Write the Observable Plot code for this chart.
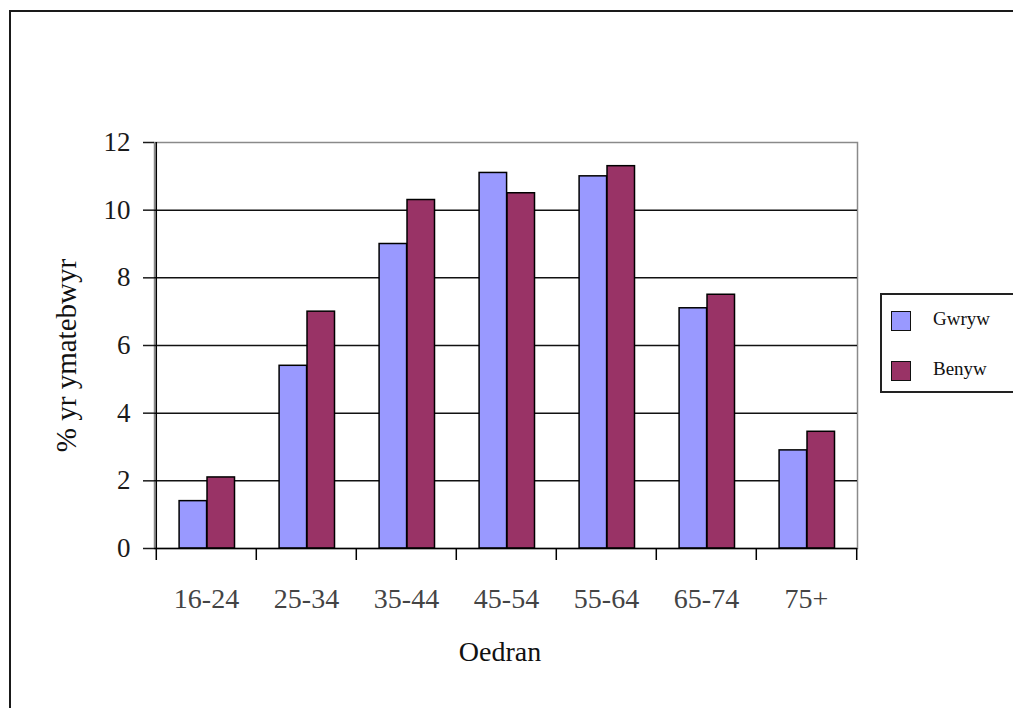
<!DOCTYPE html>
<html>
<head>
<meta charset="utf-8">
<script src="https://cdn.jsdelivr.net/npm/d3@7"></script>
<script src="https://cdn.jsdelivr.net/npm/@observablehq/plot@0.6"></script>
<style>
  html, body { margin: 0; padding: 0; background: #fff; overflow: hidden; }
  #wrap { position: relative; width: 1013px; height: 708px; overflow: hidden; }
  #border { position: absolute; left: 9px; top: 10px; width: 2000px; height: 2000px;
            border: 2px solid #1a1a1a; pointer-events: none; }
  #legend { position: absolute; left: 880px; top: 293px; width: 200px; height: 100px;
            border: 2px solid #222; box-sizing: border-box; background: #fff;
            font-family: 'Liberation Serif', 'Times New Roman', serif; font-size: 19px; color: #111; }
  .item { position: absolute; left: 9px; height: 20px; }
  .sw { position: absolute; left: 0; top: 0; width: 18px; height: 18px; border: 1.5px solid #111; }
  .lab { position: absolute; left: 42px; top: -3px; white-space: nowrap; }
</style>
</head>
<body>
<div id="wrap"></div>
<script>
// ---- data ----
const ages = ["16-24", "25-34", "35-44", "45-54", "55-64", "65-74", "75+"];
const series = ["Gwryw", "Benyw"];
const gwryw = [1.4, 5.4, 9.0, 11.1, 11.0, 7.1, 2.9];
const benyw = [2.1, 7.0, 10.3, 10.5, 11.3, 7.5, 3.45];
const yTicks = [0, 2, 4, 6, 8, 10, 12];
const colors = ["#9999FF", "#993366"];
const yTitle = "% yr ymatebwyr";
const xTitle = "Oedran";

// ---- table ----
const values = {Gwryw: gwryw, Benyw: benyw};
const data = series.flatMap(s => ages.map((a, i) => ({age: a, sex: s, value: values[s][i]})));

// ---- layout ----
const W = 1013, H = 708;
const mL = 154, mR = 156, mT = 142, mB = 160;
const step = (W - mL - mR) / ages.length;
const gap = step * 0.23;
const barW = step * 0.278;
const font = "'Liberation Serif', 'Times New Roman', serif";

const plot = Plot.plot({
  width: W,
  height: H,
  marginLeft: mL,
  marginRight: mR,
  marginTop: mT,
  marginBottom: mB,
  style: {fontFamily: font, fontSize: "27px", background: "transparent", color: "#111"},
  x: {domain: ages, paddingInner: 0, paddingOuter: 0},
  y: {domain: [0, 12]},
  color: {domain: series, range: colors},
  marks: [
    Plot.frame({stroke: "#8a8a8a", strokeWidth: 1.5}),
    Plot.ruleY(yTicks.filter(v => v > 0 && v < 12), {stroke: "#111", strokeWidth: 1.5}),
    Plot.barY(data.filter(d => d.sex === series[0]), {
      x: "age", y: "value", fill: "sex", stroke: "#000", strokeWidth: 1.5,
      insetLeft: gap, insetRight: step - gap - barW
    }),
    Plot.barY(data.filter(d => d.sex === series[1]), {
      x: "age", y: "value", fill: "sex", stroke: "#000", strokeWidth: 1.5,
      insetLeft: gap + barW, insetRight: step - gap - 2 * barW
    }),
    // axes lines
    Plot.ruleY([0], {stroke: "#000", strokeWidth: 1.5}),
    Plot.ruleX([ages[0]], {y1: 12, y2: 0, dx: -step / 2, insetBottom: -12, stroke: "#000", strokeWidth: 1.5}),
    // category boundary ticks
    Plot.ruleX(ages.slice(1), {x: d => d, y1: 0, y2: 0, dx: -step / 2, insetBottom: -12, stroke: "#000", strokeWidth: 1.5}),
    Plot.ruleX([ages[ages.length - 1]], {y1: 0, y2: 0, dx: step / 2, insetBottom: -12, stroke: "#000", strokeWidth: 1.5}),
    Plot.axisY({ticks: yTicks, tickSize: 11, tickPadding: 13, tickFormat: d => String(d),
                strokeWidth: 1.5, color: "#1a1a1a", fontSize: 27, label: null}),
    Plot.axisX({tickSize: 0, tickPadding: 40, color: "#444", fontSize: 28, label: null}),
    Plot.text([yTitle], {frameAnchor: "left", textAnchor: "middle", lineAnchor: "middle",
                         rotate: -90, dx: -88, dy: 10,
                         fontSize: 29, fill: "#111", text: d => d}),
    Plot.text([xTitle], {frameAnchor: "bottom", textAnchor: "middle", dx: -6, dy: 112,
                         fontSize: 28, fill: "#111", text: d => d})
  ]
});

const wrap = document.getElementById("wrap");
wrap.appendChild(plot);

const border = document.createElement("div");
border.id = "border";
wrap.appendChild(border);

const legend = document.createElement("div");
legend.id = "legend";
series.forEach((s, i) => {
  const item = document.createElement("div");
  item.className = "item";
  item.style.top = (16 + i * 50) + "px";
  const sw = document.createElement("div");
  sw.className = "sw";
  sw.style.background = colors[i];
  const lab = document.createElement("div");
  lab.className = "lab";
  lab.textContent = s;
  item.appendChild(sw);
  item.appendChild(lab);
  legend.appendChild(item);
});
wrap.appendChild(legend);
</script>
</body>
</html>
